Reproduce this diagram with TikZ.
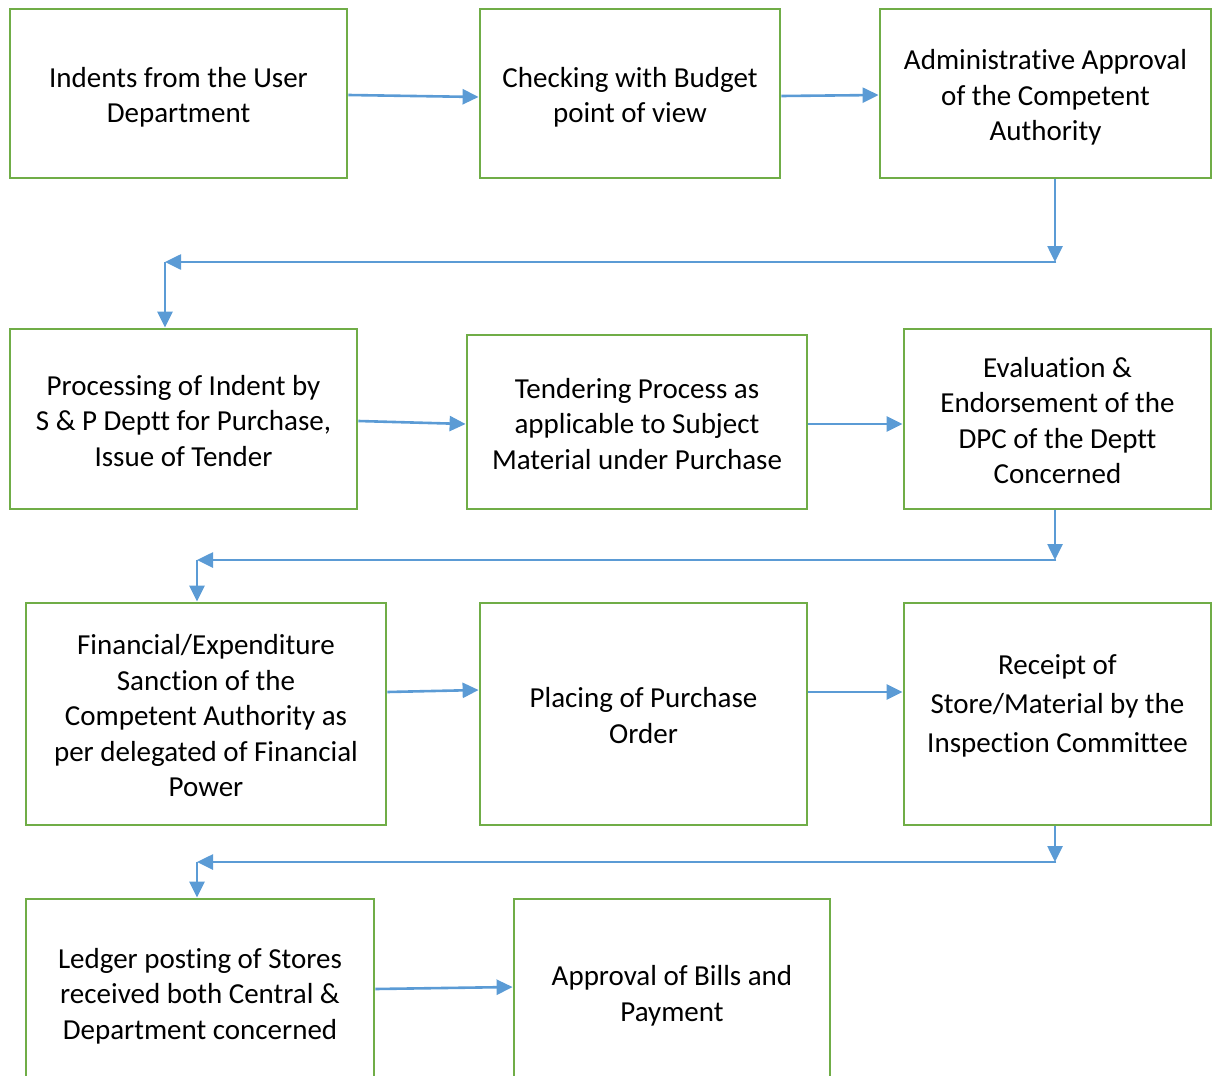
\documentclass[tikz,border=0pt]{standalone}
\usepackage{fontspec}
\setmainfont{Carlito}[Ligatures=NoCommon]
\usetikzlibrary{arrows.meta,calc}
\definecolor{boxgreen}{HTML}{70AD47}
\definecolor{flowblue}{HTML}{5B9BD5}
% fixed height of the first line and depth of the last line of a box text
\newcommand\stagetop[1][30pt]{\rule{0pt}{#1}}
\newcommand\stagebot[1][7pt]{\rule[-#1]{0pt}{0pt}}
\begin{document}
\begin{tikzpicture}[x=1pt,y=-1pt,
  stagebox/.style={draw=boxgreen,line width=2.8pt,rectangle,align=center,inner sep=0pt,
    font=\fontsize{29}{35.5}\selectfont},
  flow/.style={draw=flowblue,line width=2.6pt,-{Triangle[length=16pt,width=15pt]}}]
\useasboundingbox (0,0) rectangle (1219,1076);
\clip (0,0) rectangle (1219,1076);

% first row
\node[stagebox,minimum width=337pt,minimum height=169pt] (n1) at (178.5,93.5)
  {\stagetop Indents from the User\\Department\stagebot};
\node[stagebox,minimum width=300pt,minimum height=169pt] (n2) at (630,93.5)
  {\stagetop Checking with Budget\\point of view\stagebot};
\node[stagebox,minimum width=331pt,minimum height=169pt] (n3) at (1045.5,93.5)
  {\stagetop Administrative Approval\\of the Competent\\Authority\stagebot};

% second row
\node[stagebox,minimum width=347pt,minimum height=180pt] (n4) at (183.5,419)
  {\stagetop Processing of Indent by\\S \& P Deptt for Purchase,\\Issue of Tender\stagebot};
\node[stagebox,minimum width=340pt,minimum height=174pt] (n5) at (637,422)
  {\stagetop Tendering Process as\\applicable to Subject\\Material under Purchase\stagebot};
\node[stagebox,minimum width=307pt,minimum height=180pt] (n6) at (1057.5,419)
  {\stagetop Evaluation \&\\Endorsement of the\\DPC of the Deptt\\Concerned\stagebot};

% third row
\node[stagebox,minimum width=360pt,minimum height=222pt] (n7) at (206,714)
  {\stagetop Financial/Expenditure\\Sanction of the\\Competent Authority as\\per delegated of Financial\\Power\stagebot};
\node[stagebox,minimum width=327pt,minimum height=222pt] (n8) at (643.5,714)
  {\stagetop Placing of Purchase\\Order\stagebot};
\node[stagebox,minimum width=307pt,minimum height=222pt,
  font=\fontsize{29}{39}\selectfont] (n9) at (1057.5,714)
  {\stagetop[21pt]Receipt of\\Store/Material by the\\Inspection Committee\stagebot[22pt]};

% last row, running past the lower edge
\node[stagebox,minimum width=348pt,minimum height=186pt] (n10) at (200,992)
  {\stagetop Ledger posting of Stores\\received both Central \&\\Department concerned\stagebot};
\node[stagebox,minimum width=316pt,minimum height=186pt] (n11) at (672,992)
  {\stagetop Approval of Bills and\\Payment\stagebot};

% connectors within rows
\draw[flow] ($(n1.east)+(0,1.5)$) -- ($(n2.west)+(0,3.5)$);
\draw[flow] ($(n2.east)+(0,2.5)$) -- ($(n3.west)+(0,1.5)$);
\draw[flow] ($(n4.east)+(0,2)$) -- ($(n5.west)+(0,2)$);
\draw[flow] ($(n5.east)+(0,2)$) -- ($(n6.west)+(0,5)$);
\draw[flow] ($(n7.east)+(0,-22)$) -- ($(n8.west)+(0,-24)$);
\draw[flow] ($(n8.east)+(0,-22)$) -- ($(n9.west)+(0,-22)$);
\draw[flow] ($(n10.east)+(0,-3)$) -- ($(n11.west)+(0,-5)$);

% return connectors between rows
\coordinate (r1a) at (1055,262);
\coordinate (r1b) at (165,262);
\draw[flow] (n3.south -| r1a) -- (r1a);
\draw[flow] ($(r1a)+(1.3,0)$) -- (r1b);
\draw[flow] (r1b) -- (n4.north -| r1b);

\coordinate (r2a) at (1055,560);
\coordinate (r2b) at (197,560);
\draw[flow] (n6.south -| r2a) -- (r2a);
\draw[flow] ($(r2a)+(1.3,0)$) -- (r2b);
\draw[flow] (r2b) -- (n7.north -| r2b);

\coordinate (r3a) at (1055,862);
\coordinate (r3b) at (197,862);
\draw[flow] (n9.south -| r3a) -- (r3a);
\draw[flow] ($(r3a)+(1.3,0)$) -- (r3b);
\draw[flow] (r3b) -- (n10.north -| r3b);
\end{tikzpicture}
\end{document}
